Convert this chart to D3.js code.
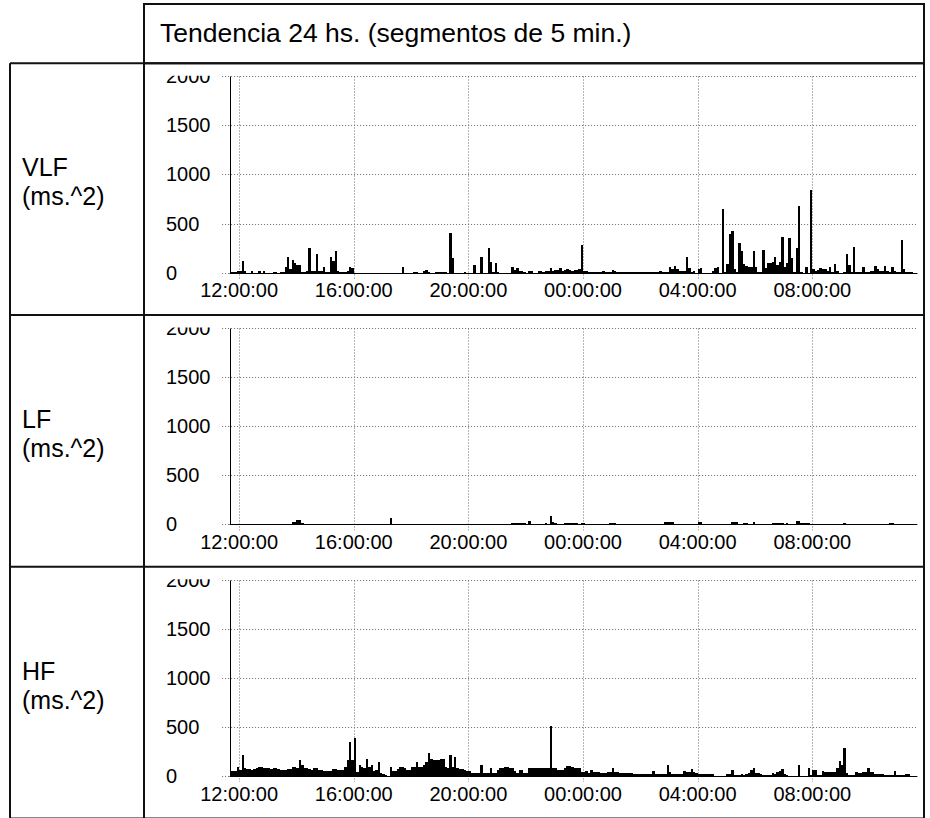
<!DOCTYPE html>
<html><head><meta charset="utf-8">
<script src="https://cdn.jsdelivr.net/npm/d3@7"></script>
<style>body{margin:0;background:#fff} svg{display:block}</style>
</head><body>
<script>
// ---------- data ----------
const title = "Tendencia 24 hs. (segmentos de 5 min.)";
const seriesNames = ["VLF", "LF", "HF"];
const unitLabel = "(ms.^2)";
const yTicks = [0, 500, 1000, 1500, 2000];
const startTime = "2000-01-01T11:40:00";   // first 5-min segment
const segmentMinutes = 5;

const vlf = [
  5,5,5,20,20,115,15,0,0,15,
  0,0,15,0,15,0,0,0,10,10,
  0,10,10,57,160,35,133,97,73,80,
  10,10,20,253,15,20,190,15,20,53,
  10,10,163,123,220,20,10,5,10,15,
  60,45,0,0,0,0,0,0,0,0,
  0,0,0,0,0,0,0,0,0,0,
  0,0,53,0,0,0,0,10,10,0,
  0,20,25,10,0,0,10,10,5,10,
  10,0,407,150,0,0,0,0,10,0,
  0,0,73,0,0,157,0,0,247,107,
  10,93,10,0,0,0,0,0,53,30,
  47,15,15,10,0,15,15,0,0,15,
  15,10,15,15,47,15,25,25,47,20,
  25,35,25,20,25,30,40,285,15,15,
  10,5,5,10,5,5,15,5,10,5,
  30,20,5,10,5,10,5,5,10,5,
  5,10,5,5,10,5,10,5,5,10,
  15,5,5,5,60,40,67,33,15,20,
  20,157,47,5,15,0,33,47,0,0,
  0,0,15,47,53,0,653,10,90,390,
  423,40,10,300,220,87,67,60,55,223,
  57,10,10,233,47,93,97,113,163,73,
  113,367,57,100,350,147,10,247,683,10,
  0,60,0,840,40,20,30,50,40,40,
  20,53,10,87,20,0,0,5,190,80,
  10,257,10,10,10,57,10,10,20,20,
  63,40,20,20,63,20,10,53,20,10,
  10,333,40,5,5,5,0,0
];
const lf = [
  0,0,0,0,3,3,0,0,0,0,
  0,0,0,0,0,0,0,0,0,0,
  0,0,0,0,8,0,27,27,40,40,
  10,0,0,5,0,0,0,0,0,0,
  0,0,0,0,0,0,0,0,0,0,
  0,5,0,0,0,0,0,5,0,0,
  0,0,0,0,0,0,0,60,0,0,
  0,0,0,0,0,0,0,0,0,0,
  0,0,0,0,0,0,0,0,0,0,
  0,0,5,0,0,0,0,0,0,0,
  0,0,0,0,0,0,0,0,0,0,
  0,0,0,0,0,0,0,0,10,10,
  10,10,10,10,0,33,5,0,0,0,
  0,0,13,0,80,27,10,5,0,0,
  10,10,10,10,10,10,5,17,17,5,
  5,0,0,5,0,0,0,5,5,13,
  13,13,5,0,0,0,0,5,8,5,
  0,0,5,0,0,8,8,8,8,5,
  5,5,20,20,20,20,5,5,0,5,
  5,8,8,5,0,5,27,27,8,8,
  8,8,8,8,8,8,8,8,8,5,
  20,20,20,5,5,10,10,5,5,23,
  5,5,5,5,8,8,8,10,10,10,
  10,10,5,10,5,5,5,33,33,10,
  10,10,10,5,8,8,8,8,8,5,
  5,5,5,8,5,5,5,15,5,5,
  5,8,5,5,5,5,5,8,5,5,
  5,5,5,5,5,5,10,10,5,5,
  5,5,5,0,0,0,0,0
];
const hf = [
  50,50,55,93,60,210,77,70,70,65,
  70,83,93,93,83,83,80,70,77,77,
  75,60,60,62,70,75,93,93,85,167,
  117,83,83,70,60,83,80,60,60,50,
  50,50,55,70,70,60,60,62,93,160,
  350,160,390,43,110,93,77,170,93,110,
  50,60,143,27,17,10,0,93,50,50,
  70,93,93,77,60,60,93,93,143,93,
  93,110,143,237,177,167,167,167,177,177,
  93,83,217,93,193,83,70,70,65,50,
  50,27,27,27,27,110,27,27,27,83,
  27,27,60,77,85,93,93,83,83,50,
  27,60,60,27,27,77,77,83,83,83,
  83,83,83,83,510,77,77,60,60,65,
  77,103,105,93,85,83,83,43,43,50,
  27,60,45,37,37,27,27,27,43,43,
  83,37,37,27,27,27,27,27,27,23,
  23,23,23,23,23,23,23,50,23,23,
  23,23,23,110,43,23,23,23,23,23,
  50,37,37,70,37,30,17,17,17,17,
  17,17,25,3,3,3,3,3,17,17,
  60,10,10,10,17,10,20,27,60,77,
  27,27,17,10,10,10,10,27,17,37,
  50,70,17,10,3,3,3,3,117,3,
  3,3,77,10,60,60,10,10,50,37,
  43,43,43,43,83,150,110,290,27,10,
  10,10,43,27,27,37,37,77,37,37,
  17,17,17,17,10,10,10,10,50,10,
  10,10,10,17,17,0,0,0
];
const seriesValues = [vlf, lf, hf];

// ---------- layout ----------
const W = 930, H = 818;
const FONT = "'Liberation Sans', Arial, Helvetica, sans-serif";
const leftX = 10, midX = 144, rightX = 924;
const headTop = 4, headBottom = 63.3, rowH = 251.7;
const axisX = 229.6, plotRight = 917.4;
const gridColor = "#6a6a6a";

const svg = d3.select("body").append("svg").attr("width", W).attr("height", H);
const defs = svg.append("defs");

const t0 = new Date(startTime);
const t1 = d3.timeMinute.offset(t0, segmentMinutes * vlf.length);
const x = d3.scaleTime().domain([t0, t1]).range([axisX, plotRight]);
const xTicks = x.ticks(d3.timeHour.every(4));
const fmt = d3.timeFormat("%H:%M:%S");

// title
svg.append("text").attr("x", 160).attr("y", 42)
  .attr("font-family", FONT).attr("font-size", 26.5).attr("fill", "#000")
  .text(title);

seriesValues.forEach((vals, r) => {
  const rowTop = headBottom + r * rowH;
  const base = rowTop + 209.3;
  const y = d3.scaleLinear().domain([0, 2000]).range([base, rowTop + 13]);

  defs.append("clipPath").attr("id", "clip" + r)
    .append("rect").attr("x", midX + 1).attr("y", y(2000) - 0.5)
    .attr("width", rightX - midX - 2).attr("height", rowTop + rowH - y(2000));

  const g = svg.append("g").attr("clip-path", `url(#clip${r})`);

  // horizontal grid / ticks
  g.selectAll("line.hg").data(yTicks).join("line")
    .attr("x1", axisX - 7.5).attr("x2", d => d === 0 ? axisX : plotRight)
    .attr("y1", d => Math.round(y(d)) + 0.5).attr("y2", d => Math.round(y(d)) + 0.5)
    .attr("stroke", gridColor).attr("stroke-width", 1).attr("stroke-dasharray", "1,2");

  // vertical grid
  g.selectAll("line.vg").data(xTicks).join("line")
    .attr("x1", d => Math.round(x(d)) + 0.5).attr("x2", d => Math.round(x(d)) + 0.5)
    .attr("y1", Math.round(y(2000)) + 0.5).attr("y2", base + 6)
    .attr("stroke", gridColor).attr("stroke-width", 1).attr("stroke-dasharray", "1,2");

  // bars
  g.selectAll("rect.bar").data(vals).join("rect")
    .attr("x", (d, i) => x(d3.timeMinute.offset(t0, i * segmentMinutes)))
    .attr("width", (d, i) => x(d3.timeMinute.offset(t0, (i + 1) * segmentMinutes)) - x(d3.timeMinute.offset(t0, i * segmentMinutes)))
    .attr("y", d => y(d))
    .attr("height", d => base - y(d))
    .attr("fill", "#000").attr("shape-rendering", "crispEdges");

  // axes
  g.append("line").attr("x1", Math.round(axisX) + 0.5).attr("x2", Math.round(axisX) + 0.5)
    .attr("y1", Math.round(y(2000)) + 0.5).attr("y2", Math.round(base) + 0.5)
    .attr("stroke", "#000").attr("stroke-width", 1);
  g.append("line").attr("x1", axisX).attr("x2", plotRight)
    .attr("y1", Math.round(base) + 0.5).attr("y2", Math.round(base) + 0.5)
    .attr("stroke", "#000").attr("stroke-width", 1);

  // y labels (left-aligned column)
  g.selectAll("text.yl").data(yTicks).join("text")
    .attr("x", 166).attr("y", d => y(d) + 7)
    .attr("text-anchor", "start").attr("font-family", FONT).attr("font-size", 20).attr("fill", "#000")
    .text(d => d);

  // x labels
  g.selectAll("text.xl").data(xTicks).join("text")
    .attr("x", d => x(d)).attr("y", base + 24.5)
    .attr("text-anchor", "middle").attr("font-family", FONT).attr("font-size", 20).attr("fill", "#000")
    .text(d => fmt(d));

  // row labels
  svg.append("text").attr("x", 22).attr("y", rowTop + 113)
    .attr("font-family", FONT).attr("font-size", 25).attr("fill", "#000").text(seriesNames[r]);
  svg.append("text").attr("x", 22).attr("y", rowTop + 142)
    .attr("font-family", FONT).attr("font-size", 25).attr("fill", "#000").text(unitLabel);
});

// table borders
const bs = "#111", bw = 2;
const border = svg.append("g").attr("fill", "none").attr("stroke", bs).attr("stroke-width", bw);
border.append("rect").attr("x", midX).attr("y", headTop).attr("width", rightX - midX).attr("height", headBottom - headTop);
border.append("line").attr("x1", leftX).attr("x2", rightX).attr("y1", headBottom).attr("y2", headBottom);
for (let r = 1; r <= 3; r++) {
  const yy = headBottom + r * rowH;
  border.append("line").attr("x1", leftX).attr("x2", rightX).attr("y1", yy).attr("y2", yy);
}
border.append("line").attr("x1", leftX).attr("x2", leftX).attr("y1", headBottom).attr("y2", H + 5);
border.append("line").attr("x1", midX).attr("x2", midX).attr("y1", headTop).attr("y2", H + 5);
border.append("line").attr("x1", rightX).attr("x2", rightX).attr("y1", headTop).attr("y2", H + 5);
</script>
</body></html>
